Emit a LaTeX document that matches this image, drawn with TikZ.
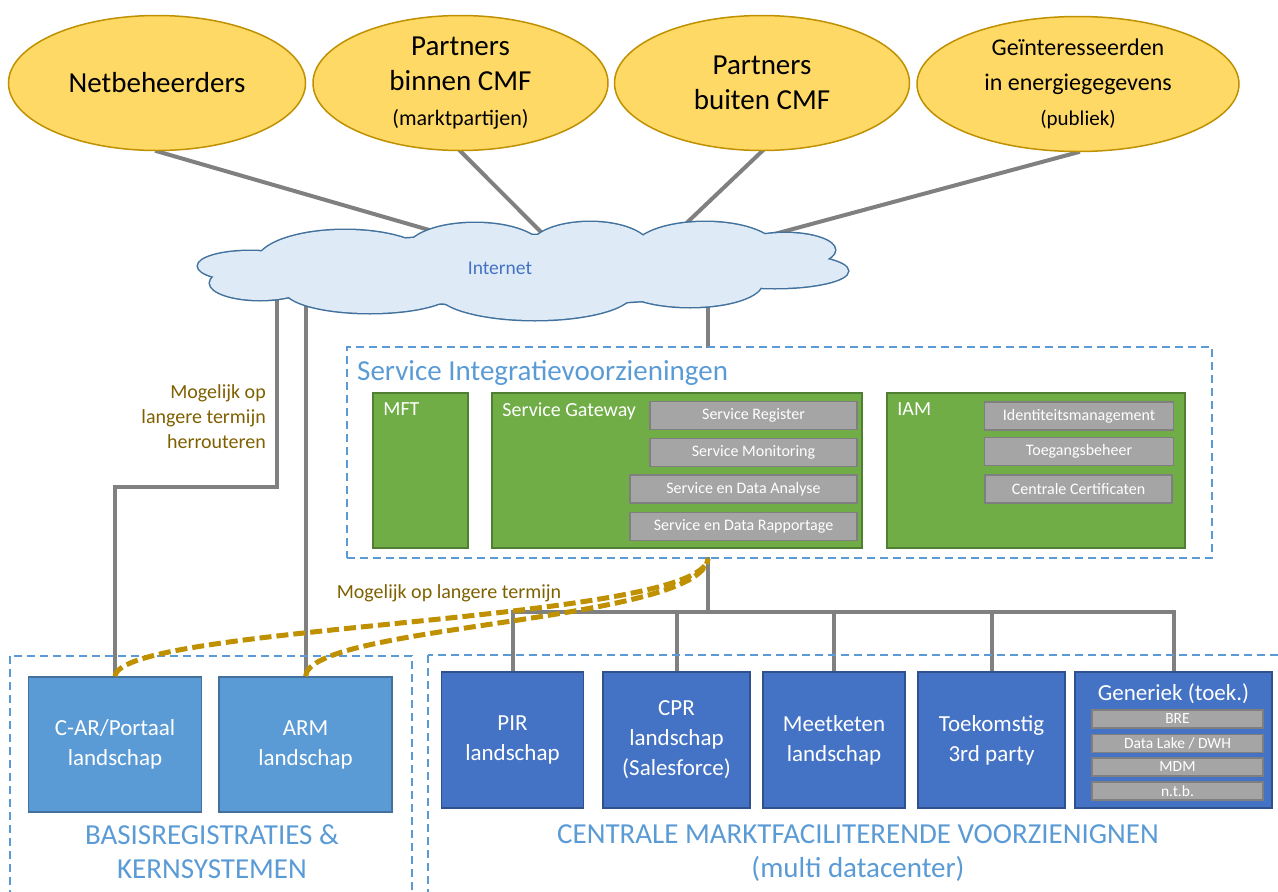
\documentclass[tikz,border=0pt]{standalone}
\usepackage{fontspec}
\setmainfont{Carlito}
\usepackage{tikz}
\usetikzlibrary{shapes.geometric}
\definecolor{partyfill}{HTML}{FFD966}
\definecolor{partyline}{HTML}{BF9000}
\definecolor{cloudfill}{HTML}{DEEBF7}
\definecolor{cloudline}{HTML}{41719C}
\definecolor{inettext}{HTML}{4472C4}
\definecolor{linkgray}{HTML}{808080}
\definecolor{zoneblue}{HTML}{5B9BD5}
\definecolor{greenfill}{HTML}{70AD47}
\definecolor{greenline}{HTML}{507E32}
\definecolor{greyfill}{HTML}{A5A5A5}
\definecolor{greyline}{HTML}{7F7F7F}
\definecolor{basefill}{HTML}{5B9BD5}
\definecolor{basedraw}{HTML}{41719C}
\definecolor{cmffill}{HTML}{4472C4}
\definecolor{cmfdraw}{HTML}{2F528F}
\definecolor{maybegold}{HTML}{BF9000}
\definecolor{maybetext}{HTML}{7F6000}
\newcommand{\fsz}[2]{\fontsize{#1}{#2}\selectfont}
\pgfdeclarelayer{background}
\pgfsetlayers{background,main}

\begin{document}
\begin{tikzpicture}[x=1pt,y=-1pt,
  party/.style={ellipse,draw=partyline,fill=partyfill,line width=1.5pt,minimum width=297pt,minimum height=135pt,inner sep=0pt,align=center,font=\fsz{29}{35}},
  link/.style={draw=linkgray,line width=4pt,line cap=rect},
  zone/.style={draw=zoneblue,line width=1.5pt,dash pattern=on 8pt off 5pt},
  zonetitle/.style={text=zoneblue,align=center,inner sep=2pt,font=\fsz{29}{34}},
  greenbox/.style={draw=greenline,fill=greenfill,line width=1.5pt,minimum height=155pt},
  greenlabel/.style={text=white,anchor=north west,inner sep=2pt,font=\fsz{20}{24}},
  greybox/.style={draw=greyline,fill=greyfill,line width=1.5pt,text=white,inner sep=0pt,font=\fsz{16}{18}},
  basebox/.style={draw=basedraw,fill=basefill,line width=1.5pt,text=white,align=center,minimum width=173pt,minimum height=135pt,font=\fsz{23}{30}},
  cmfbox/.style={draw=cmfdraw,fill=cmffill,line width=1.5pt,text=white,align=center,minimum height=136pt,font=\fsz{23}{30}},
  maybe/.style={draw=maybegold,line width=5pt,dash pattern=on 12pt off 5pt},
  maybelabel/.style={text=maybetext,inner sep=2pt,font=\fsz{20}{25}}]
\useasboundingbox (0,0) rectangle (1278,892);
\clip (0,0) rectangle (1278,892);
% parties
\node[party] (net) at (157,83) {Netbeheerders};
\node[party,minimum width=295pt] (bin) at (460.5,83) {Partners\\binnen CMF\\{\fsz{22}{33}(marktpartijen)}};
\node[party,minimum width=295pt] (buit) at (762,83) {Partners\\buiten CMF};
\node[party,minimum width=322pt,font=\fsz{24}{35}] (gei) at (1078,84) {Geïnteresseerden\\in energiegegevens\\{\fsz{21}{33}(publiek)}};
% internet (wolk uit ellipsen)
\def\puffs{345/262/88/32,475/250/68/27,590/248/60/26,705/250/72/28,785/250/50/17,775/271/73/17,690/283/72/24,535/292/98/28,370/290/85/23,260/283/50/17,250/266/52/15,520/270/260/35}
\foreach \cx/\cy/\rx/\ry in \puffs
  \draw[cloudline,line width=3pt] (\cx,\cy) ellipse [x radius=\rx,y radius=\ry];
\foreach \cx/\cy/\rx/\ry in \puffs
  \fill[cloudfill] (\cx,\cy) ellipse [x radius=\rx,y radius=\ry];
\node[text=inettext,font=\fsz{19.5}{22}] (inettxt) at (500,268) {Internet};
\coordinate (in1) at (450,236);
\coordinate (in2) at (545,236);
\coordinate (in3) at (675,234);
\coordinate (in4) at (767,236);
\coordinate (inA) at (277,295);
\coordinate (bendA) at (277,487);
\coordinate (inB) at (305.5,295);
\coordinate (inC) at (708,295);
\coordinate (bus) at (708,612);
% service integratie
\node[zone,minimum width=865pt,minimum height=211pt] (si) at (779.5,452.5) {};
\node[zonetitle,anchor=west] (sititle) at (355,373) {Service Integratievoorzieningen};
\node[greenbox,minimum width=95pt] (mft) at (420.5,470.5) {};
\node[greenbox,minimum width=370pt] (gw) at (677,470.5) {};
\node[greenbox,minimum width=298pt] (iam) at (1036,470.5) {};
\node[greenlabel] (mftlab) at ([shift={(9,8)}]mft.north west) {MFT};
\node[greenlabel] (gwlab) at ([shift={(9,8)}]gw.north west) {Service Gateway};
\node[greenlabel] (iamlab) at ([shift={(9,8)}]iam.north west) {IAM};
\foreach \nm/\x/\y/\w/\txt in {sreg/753.5/415.5/207/Service Register,smon/753.5/452.5/207/Service Monitoring,sana/743.5/489/227/Service en Data Analyse,srap/743.5/526.5/227/Service en Data Rapportage,idm/1079/416/189/Identiteitsmanagement,toeg/1079/451.5/189/Toegangsbeheer,cert/1078.5/489/187/Centrale Certificaten}
  \node[greybox,minimum width=\w pt,minimum height=28pt] (\nm) at (\x,\y) {\txt};
% basis
\draw[zone] (10,656) rectangle (412,910);
\node[basebox] (car) at (115,744.5) {C-AR/Portaal\\landschap};
\node[basebox] (arm) at (305.5,744.5) {ARM\\landschap};
\node[zonetitle] (basistitle) at (212,852) {BASISREGISTRATIES \&\\KERNSYSTEMEN};
% centrale voorzieningen
\draw[zone] (428,655) rectangle (1300,910);
\node[cmfbox,minimum width=142pt] (pir) at (512.5,740) {PIR\\landschap};
\node[cmfbox,minimum width=147pt] (cpr) at (676.5,740) {CPR\\landschap\\(Salesforce)};
\node[cmfbox,minimum width=142pt] (meet) at (834,740) {Meetketen\\landschap};
\node[cmfbox,minimum width=147pt] (toek) at (991.5,740) {Toekomstig\\3rd party};
\node[cmfbox,minimum width=197pt] (gen) at (1173.5,740) {};
\node[text=white,inner sep=2pt,font=\fsz{23}{26}] (gentitle) at (1173.5,694) {Generiek (toek.)};
\foreach \nm/\y/\txt in {bre/719/BRE,lake/743.5/{Data Lake / DWH},mdm/767/MDM,ntb/791/n.t.b.}
  \node[greybox,minimum width=171pt,minimum height=18pt,font=\fsz{15.5}{17}] (\nm) at (1177.5,\y) {\txt};
\node[zonetitle] (cmftitle) at (858,853) {CENTRALE MARKTFACILITERENDE VOORZIENIGNEN\\(multi datacenter)};
% verbindingen
\begin{pgfonlayer}{background}
\draw[link] (net.south) -- (in1);
\draw[link] (bin.south) -- (in2);
\draw[link] (buit.south) -- (in3);
\draw[link] (gei.south) -- (in4);
\draw[link] (inA) -- (bendA) -| (car.north);
\draw[link] (inB) -- (arm.north);
\draw[link] (inC) -- (inC |- si.north);
\draw[link] (si.south -| bus) -- (bus);
\draw[link] (pir.north |- bus) -- (gen.north |- bus);
\foreach \b in {pir,cpr,meet,toek,gen}
  \draw[link] (\b.north |- bus) -- (\b.north);
\end{pgfonlayer}
\node[maybelabel,anchor=east,align=right] (reroute) at (268,417) {Mogelijk op\\langere termijn\\herrouteren};
\node[maybelabel] (later) at (449,593) {Mogelijk op langere termijn};
\draw[maybe] (car.north) .. controls +(5,-52) and +(-8,64) .. (si.south -| bus);
\draw[maybe] (arm.north) .. controls +(4,-52) and +(-8,64) .. (si.south -| bus);
\end{tikzpicture}
\end{document}
